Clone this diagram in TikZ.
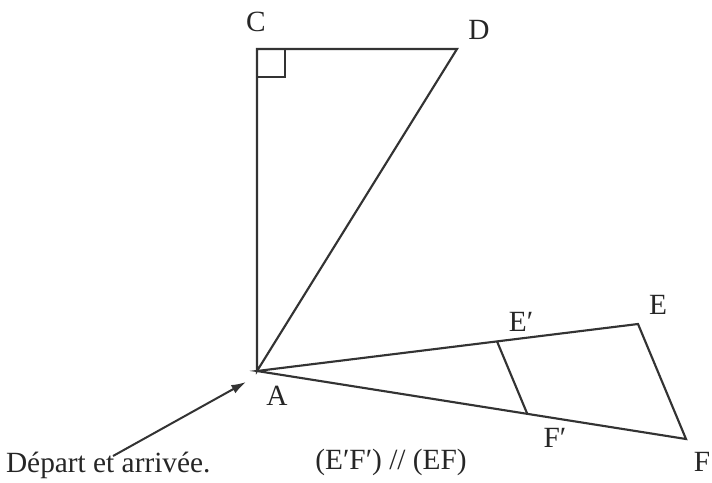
\documentclass[tikz,border=0pt]{standalone}
\usepackage{fontspec}
\setmainfont{Liberation Serif}
\usetikzlibrary{arrows.meta,calc}
\begin{document}
\begin{tikzpicture}[x=0.75pt,y=-0.75pt,line width=1.6pt,line join=miter,
  lbl/.style={font=\fontsize{22}{26}\selectfont,inner sep=0pt,text=black!85},
  seg/.style={draw=black!80}]
\useasboundingbox (0,0) rectangle (712,482);
\coordinate (A) at (257,371);
\coordinate (C) at (257,49);
\coordinate (D) at (457,49);
\coordinate (E) at (638,324);
\coordinate (F) at (686,439);
\coordinate (Ep) at ($(A)!0.63!(E)$);
\coordinate (Fp) at ($(A)!0.63!(F)$);
\coordinate (s) at (113,456);
\coordinate (t) at (246,382);
% triangle ACD
\draw[seg] (A) -- (C) -- (D) -- cycle;
\draw[seg,line width=1.4pt] (257,77) -- (285,77) -- (285,49);
% triangle AEF
\draw[seg] (A) -- (E) -- (F) -- cycle;
\draw[seg] (Ep) -- (Fp);
% arrow
\draw[seg,line width=1.5pt,-{Latex[length=11pt,width=7pt]}] (s) -- (t);
% labels
\node[lbl] (lC) at (256,22) {C};
\node[lbl] (lD) at (479,30) {D};
\node[lbl] (lA) at (277,396) {A};
\node[lbl] (lE) at (658,305) {E};
\node[lbl] (lEp) at (521,322) {E′};
\node[lbl] (lFp) at (555,438) {F′};
\node[lbl] (lF) at (702,462) {F};
\node[lbl,anchor=base west] (dep) at (5,472) {Départ et arrivée.};
\node[lbl,anchor=base] (par) at (391,469) {(E′F′) // (EF)};
\end{tikzpicture}
\end{document}
